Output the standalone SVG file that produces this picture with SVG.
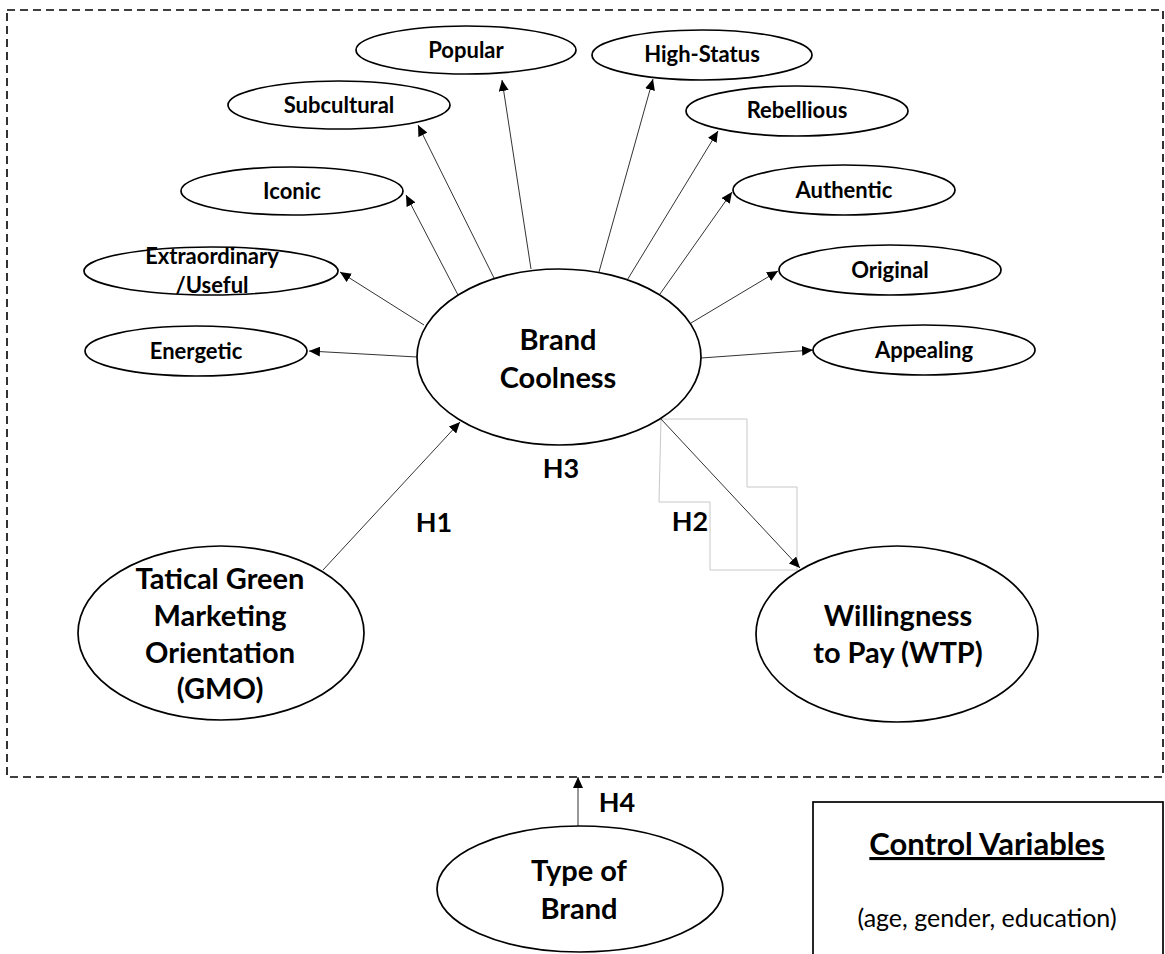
<svg xmlns="http://www.w3.org/2000/svg" width="1165" height="954" viewBox="0 0 1165 954">
  <defs>
    <marker id="arr" markerUnits="userSpaceOnUse" markerWidth="12" markerHeight="10" refX="11" refY="5" orient="auto">
      <path d="M0,0 L11,5 L0,10 z" fill="#000"/>
    </marker>
    <style>
      .frame { fill: none; stroke: #000; stroke-width: 1.6; stroke-dasharray: 8 5; }
      .el { fill: #fff; stroke: #000; stroke-width: 1.7; }
      .conn { stroke: #333; stroke-width: 1; fill: none; }
      .arrow { marker-end: url(#arr); }
      .t { font-family: Lato, "Open Sans", sans-serif; font-weight: 700; fill: #000; text-anchor: middle; }
      .s { font-size: 22px; }
      .b { font-size: 29px; }
      .h { font-size: 27px; }
      .gray { fill: none; stroke: #c8c8c8; stroke-width: 1; }
    </style>
  </defs>
  <rect width="1165" height="954" fill="#fff"/>
  <rect class="frame" x="7" y="10" width="1156" height="767"/>

  <g id="connectors">
    <polygon class="gray" points="661,419 747,419 747,487 797,487 797,570 710,570 710,502 659,502"/>
    <line class="conn arrow" x1="531" y1="269" x2="502" y2="80"/>
    <line class="conn arrow" x1="494" y1="278" x2="418" y2="125"/>
    <line class="conn arrow" x1="458" y1="295" x2="406" y2="195"/>
    <line class="conn arrow" x1="424" y1="325" x2="340" y2="272"/>
    <line class="conn arrow" x1="417" y1="357" x2="309" y2="351"/>
    <line class="conn arrow" x1="599" y1="272" x2="653" y2="79"/>
    <line class="conn arrow" x1="626" y1="282" x2="718" y2="131"/>
    <line class="conn arrow" x1="660" y1="294" x2="732" y2="192"/>
    <line class="conn arrow" x1="691" y1="323" x2="778" y2="271"/>
    <line class="conn arrow" x1="701" y1="358" x2="813" y2="350"/>
    <line class="conn arrow" x1="323" y1="570" x2="460" y2="422"/>
    <line class="conn arrow" x1="661" y1="419" x2="800" y2="568"/>
    <line class="conn arrow" x1="578" y1="827" x2="578" y2="777"/>
  </g>

  <g id="popular"><ellipse class="el" cx="466" cy="50" rx="110" ry="24"/><text class="t s" x="466" y="58">Popular</text></g>
  <g id="high-status"><ellipse class="el" cx="702" cy="55" rx="110" ry="25"/><text class="t s" x="702" y="62">High-Status</text></g>
  <g id="subcultural"><ellipse class="el" cx="339" cy="105" rx="111" ry="24"/><text class="t s" x="339" y="113">Subcultural</text></g>
  <g id="rebellious"><ellipse class="el" cx="797" cy="111" rx="111" ry="25"/><text class="t s" x="797" y="118">Rebellious</text></g>
  <g id="iconic"><ellipse class="el" cx="292" cy="191" rx="111" ry="24"/><text class="t s" x="292" y="199">Iconic</text></g>
  <g id="authentic"><ellipse class="el" cx="844" cy="190" rx="111" ry="25"/><text class="t s" x="844" y="198">Authentic</text></g>
  <g id="extraordinary"><ellipse class="el" cx="211" cy="271" rx="127" ry="24"/><text class="t s" x="212" y="264">Extraordinary</text><text class="t s" x="212" y="293">/Useful</text></g>
  <g id="original"><ellipse class="el" cx="890" cy="270" rx="111" ry="25"/><text class="t s" x="890" y="278">Original</text></g>
  <g id="energetic"><ellipse class="el" cx="196" cy="351" rx="111" ry="25"/><text class="t s" x="196" y="359">Energetic</text></g>
  <g id="appealing"><ellipse class="el" cx="924" cy="350" rx="111" ry="25"/><text class="t s" x="924" y="358">Appealing</text></g>

  <g id="brand-coolness"><ellipse class="el" cx="559" cy="357" rx="142" ry="88"/><text class="t b" x="558" y="350">Brand</text><text class="t b" x="558" y="388">Coolness</text></g>
  <g id="gmo"><ellipse class="el" cx="221" cy="633" rx="143" ry="87"/><text class="t b" x="220" y="589">Tatical Green</text><text class="t b" x="220" y="626">Marketing</text><text class="t b" x="220" y="663">Orientation</text><text class="t b" x="220" y="699">(GMO)</text></g>
  <g id="wtp"><ellipse class="el" cx="897" cy="634" rx="141" ry="88"/><text class="t b" x="898" y="626">Willingness</text><text class="t b" x="898" y="663">to Pay (WTP)</text></g>
  <g id="type-of-brand"><ellipse class="el" cx="580" cy="889" rx="143" ry="63"/><text class="t b" x="579" y="881">Type of</text><text class="t b" x="579" y="919">Brand</text></g>

  <g id="labels">
    <text class="t h" x="434" y="532">H1</text>
    <text class="t h" x="690" y="531">H2</text>
    <text class="t h" x="561" y="478">H3</text>
    <text class="t h" x="617" y="812">H4</text>
  </g>

  <g id="control-variables">
    <rect x="813" y="802" width="350" height="160" fill="#fff" stroke="#000" stroke-width="1.7"/>
    <text class="t" x="987" y="855" font-size="31" text-decoration="underline">Control Variables</text>
    <text x="987" y="927" font-family="Lato, 'Open Sans', sans-serif" font-size="25" text-anchor="middle" fill="#000">(age, gender, education)</text>
  </g>
</svg>
